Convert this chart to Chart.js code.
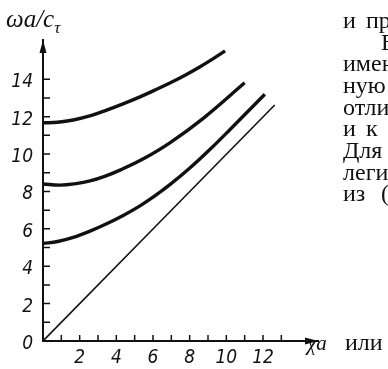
<!DOCTYPE html>
<html><head><meta charset="utf-8">
<script src="https://cdn.jsdelivr.net/npm/chart.js@4.4.0/dist/chart.umd.min.js"></script>
<style>
html,body{margin:0;padding:0;background:#fff;overflow:hidden}
#wrap{position:relative;width:388px;height:369px;overflow:hidden;background:#fff}
canvas{position:absolute;left:0;top:0}
.t{position:absolute;font-family:"Liberation Serif","DejaVu Serif",serif;font-size:24px;line-height:24px;color:#111;white-space:pre}
.ax{position:absolute;font-family:"Liberation Serif","DejaVu Serif",serif;font-style:italic;color:#111;white-space:pre;line-height:1}
</style></head><body>
<div id="wrap">
<canvas id="c" width="388" height="369"></canvas>
<div class="ax" style="left:6px;top:6px;font-size:25px">ωa/c<span style="font-size:17px;position:relative;top:6px">τ</span></div>
<div class="ax" style="left:307px;top:333px;font-size:21px">χa</div>
<div class="t" style="left:343px;top:8px">и</div>
<div class="t" style="left:366px;top:8px">пр</div>
<div class="t" style="left:381px;top:30px">В</div>
<div class="t" style="left:343px;top:51px">имен</div>
<div class="t" style="left:343px;top:73px">ную</div>
<div class="t" style="left:343px;top:95px">отли</div>
<div class="t" style="left:343px;top:116px">и</div>
<div class="t" style="left:366px;top:116px">к</div>
<div class="t" style="left:343px;top:138px">Для</div>
<div class="t" style="left:343px;top:160px">леги</div>
<div class="t" style="left:343px;top:181px">из</div>
<div class="t" style="left:381px;top:181px">(</div>
<div class="t" style="left:345px;top:330px">или</div>
</div>
<script>
// ---- data ----
const curve1X = [0, 0.8, 1.65, 2.6, 3.47, 4.4, 5.29, 6.1, 6.92, 7.7, 8.5, 9.2, 9.93];
const curve1Y = [11.67, 11.7, 11.82, 12.05, 12.35, 12.7, 13.06, 13.42, 13.8, 14.19, 14.63, 15.05, 15.52];
const curve2X = [0, 0.93, 1.8, 2.56, 3.4, 4.2, 5.5, 6.92, 8.74, 11.0];
const curve2Y = [8.40, 8.34, 8.42, 8.56, 8.82, 9.14, 9.76, 10.6, 11.91, 13.81];
const curve3X = [0, 0.8, 1.65, 2.5, 3.47, 4.4, 5.29, 6.1, 6.92, 8.01, 9.1, 10.19, 12.1];
const curve3Y = [5.22, 5.32, 5.54, 5.85, 6.27, 6.73, 7.23, 7.76, 8.36, 9.25, 10.24, 11.3, 13.2];
const lineX = [0, 12.64];
const lineY = [0, 12.62];
const xTickLabels = ['2', '4', '6', '8', '10', '12'];
const yTickLabels = ['0', '2', '4', '6', '8', '10', '12', '14'];
const xMinorTicks = [1, 2, 3, 4, 5, 6, 7, 8, 9, 10, 11, 12, 13];
const yMinorTicks = [1, 2, 3, 4, 5, 6, 7, 8, 9, 10, 11, 12, 13, 14];

const pts = (xs, ys) => xs.map((x, i) => ({x, y: ys[i]}));
const ink = '#111';

const axisDeco = {
  id: 'axisDeco',
  afterDraw(chart) {
    const {ctx, scales: {x, y}} = chart;
    const x0 = x.getPixelForValue(0), y0 = y.getPixelForValue(0);
    ctx.save();
    ctx.strokeStyle = ink; ctx.fillStyle = ink; ctx.lineWidth = 1.5;
    ctx.beginPath();
    xMinorTicks.forEach(v => { const p = x.getPixelForValue(v); ctx.moveTo(p, y0); ctx.lineTo(p, y0 - 6); });
    yMinorTicks.forEach(v => { const p = y.getPixelForValue(v); ctx.moveTo(x0, p); ctx.lineTo(x0 + 7, p); });
    ctx.stroke();
    const xt = x.getPixelForValue(x.max), yt = y.getPixelForValue(y.max);
    ctx.beginPath();
    ctx.moveTo(xt, y0); ctx.lineTo(xt - 13, y0 - 3.5); ctx.lineTo(xt - 13, y0 + 3.5); ctx.closePath();
    ctx.moveTo(x0, yt); ctx.lineTo(x0 - 3.5, yt + 13); ctx.lineTo(x0 + 3.5, yt + 13); ctx.closePath();
    ctx.fill();
    ctx.restore();
  }
};

const tickFont = {family: '"Liberation Sans Narrow", "DejaVu Sans Condensed", "Liberation Sans", sans-serif', size: 19, style: 'italic'};

new Chart(document.getElementById('c'), {
  type: 'scatter',
  data: {
    datasets: [
      {data: pts(curve1X, curve1Y), borderWidth: 3.4},
      {data: pts(curve2X, curve2Y), borderWidth: 3.4},
      {data: pts(curve3X, curve3Y), borderWidth: 3.4},
      {data: pts(lineX, lineY), borderWidth: 1.6}
    ].map(d => Object.assign(d, {showLine: true, pointRadius: 0, borderColor: ink, tension: 0.4, fill: false}))
  },
  options: {
    responsive: false,
    animation: false,
    devicePixelRatio: 1,
    layout: {padding: {left: 0, top: 40, right: 70, bottom: 0}},
    plugins: {legend: {display: false}, tooltip: {enabled: false}},
    scales: {
      x: {
        type: 'linear', min: 0, max: 15,
        grid: {display: false, drawTicks: false, tickLength: 0},
        border: {display: true, color: ink, width: 2},
        ticks: {stepSize: 1, autoSkip: false, maxRotation: 0, padding: 6, color: ink, font: tickFont,
          callback: v => xTickLabels.includes(String(v)) ? String(v) : ''},
        afterFit: s => { s.height = 28; }
      },
      y: {
        type: 'linear', min: 0, max: 16.1,
        grid: {display: false, drawTicks: false, tickLength: 0},
        border: {display: true, color: ink, width: 2},
        ticks: {stepSize: 1, autoSkip: false, padding: 10, labelOffset: 3, color: ink, font: tickFont,
          callback: v => yTickLabels.includes(String(v)) ? String(v) : ''},
        afterFit: s => { s.width = 43; }
      }
    }
  },
  plugins: [axisDeco]
});
</script>
</body></html>
